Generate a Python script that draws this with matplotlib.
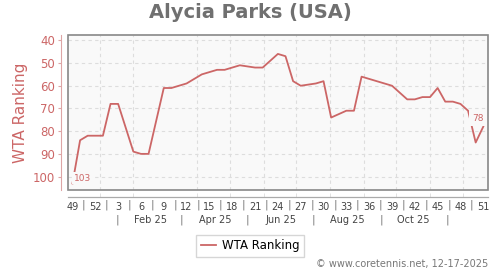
import matplotlib
matplotlib.use("Agg")
import matplotlib.pyplot as plt
from matplotlib.patches import Rectangle
import datetime as dt

# ranking weeks, counted from week 49 of 2024 (0) to week 51 of 2025 (54)
week_idx = [0, 1, 2, 4, 5, 6, 8, 9, 10, 12, 13, 15, 17, 19, 20, 22, 24, 25, 27, 28,
            29, 30, 32, 33, 34, 36, 37, 38, 42, 44, 45, 46, 47, 48, 49, 50, 51, 52, 53, 54]
ranking = [103, 84, 82, 82, 68, 68, 89, 90, 90, 61, 61, 59, 55, 53, 53, 51, 52, 52, 46, 47,
           58, 60, 59, 58, 74, 71, 71, 56, 60, 66, 66, 65, 65, 61, 67, 67, 68, 71, 85, 78]

week_ticks = list(range(0, 55, 3))
week_labels = ['49', '52', '3', '6', '9', '12', '15', '18', '21', '24',
               '27', '30', '33', '36', '39', '42', '45', '48', '51']
month_labels = ['Feb 25', 'Apr 25', 'Jun 25', 'Aug 25', 'Oct 25']
month_nums = [2, 4, 6, 8, 10]
sep_months = [1, 3, 5, 7, 9, 11]

red = '#cc6666'
start = dt.date(2024, 12, 7)


def wk(d):
    return (d - start).days / 7.0


fig = plt.figure(figsize=(5, 2.7), dpi=100)
ax = fig.add_axes([68.3 / 500, 80 / 270, 419.4 / 500, 154.7 / 270])
ax.set_facecolor('#f9f9f9')

ax.plot(week_idx, ranking, color=red, lw=1.3, zorder=2)

ax.set_xlim(-0.55, 54.58)
ax.set_ylim(105.9, 37.8)

# frame
ax.add_patch(Rectangle((0, 0), 1, 1, transform=ax.transAxes, fill=False,
                       ec='#888888', lw=1.2, clip_on=False, zorder=4))
for s in ['top', 'right']:
    ax.spines[s].set_visible(False)
ax.spines['left'].set_position(('outward', 5))
ax.spines['left'].set_color('#dda5a5')
ax.spines['bottom'].set_position(('outward', 5))
ax.spines['bottom'].set_color('#aaaaaa')
ax.spines['bottom'].set_linewidth(0.9)

ax.set_yticks([40, 50, 60, 70, 80, 90, 100])
ax.tick_params(axis='y', colors='#dda5a5', labelcolor=red, labelsize=8.5,
               length=2, pad=2.5)

# week ticks with labels, month starts as grid
ax.set_xticks(week_ticks)
ax.set_xticklabels(week_labels)
month_starts = [wk(dt.date(2025, m, 1)) for m in range(1, 13)]
ax.set_xticks(month_starts, minor=True)
ax.tick_params(axis='x', which='major', length=0, labelsize=7, labelcolor='#444444', pad=4)
ax.tick_params(axis='x', which='minor', direction='in', length=3, color='#dddddd')

ax.grid(True, axis='y', which='major', color='#dddddd', lw=0.8, ls=(0, (3, 3)))
ax.grid(True, axis='x', which='minor', color='#dddddd', lw=0.8, ls=(0, (3, 3)))
ax.grid(False, axis='x', which='major')

tr = ax.get_xaxis_transform()
for k in range(len(week_ticks) - 1):
    ax.text(week_ticks[k] + 1.5, -0.0924, '|', transform=tr, ha='center', va='center',
            fontsize=7.5, color='#777777', clip_on=False)
for m, lab in zip(month_nums, month_labels):
    ax.text(wk(dt.date(2025, m, 17)), -0.1933, lab, transform=tr, ha='center', va='center',
            fontsize=7, color='#444444', clip_on=False)
for m in sep_months:
    ax.text(wk(dt.date(2025, m, 17)), -0.19, '|', transform=tr, ha='center', va='center',
            fontsize=7.5, color='#777777', clip_on=False)

# first / last value labels
ax.annotate(str(ranking[0]), xy=(week_idx[0], ranking[0]), xytext=(0.8, 0.6),
            textcoords='offset points', ha='left', va='bottom', fontsize=6.5, color=red,
            bbox=dict(boxstyle='square,pad=0.2', fc='#f9f9f9', ec='none'), zorder=3)
ax.annotate(str(ranking[-1]), xy=(week_idx[-1], ranking[-1]), xytext=(0.5, 2.4),
            textcoords='offset points', ha='right', va='bottom', fontsize=6.5, color=red,
            bbox=dict(boxstyle='square,pad=0.35', fc='#f9f9f9', ec='none'), zorder=3)

fig.text(0.5, 1 - 12.5 / 270, 'Alycia Parks (USA)', ha='center', va='center',
         fontsize=14, fontweight='bold', color='#707070')
fig.text(20.7 / 500, 1 - 112.5 / 270, 'WTA Ranking', rotation=90, ha='center',
         va='center', fontsize=11, color=red)

fig.legend(['WTA Ranking'], loc='center', bbox_to_anchor=(0.5, 1 - 246 / 270),
           fontsize=8.5, frameon=True, fancybox=False, edgecolor='#cccccc',
           handlelength=1.3, borderpad=0.35, handletextpad=0.5)

fig.text(488 / 500, 1 - 264.3 / 270, '\u00a9 www.coretennis.net, 12-17-2025',
         ha='right', va='center', fontsize=7, color='#777777')

fig.savefig('out.png', dpi=100)
